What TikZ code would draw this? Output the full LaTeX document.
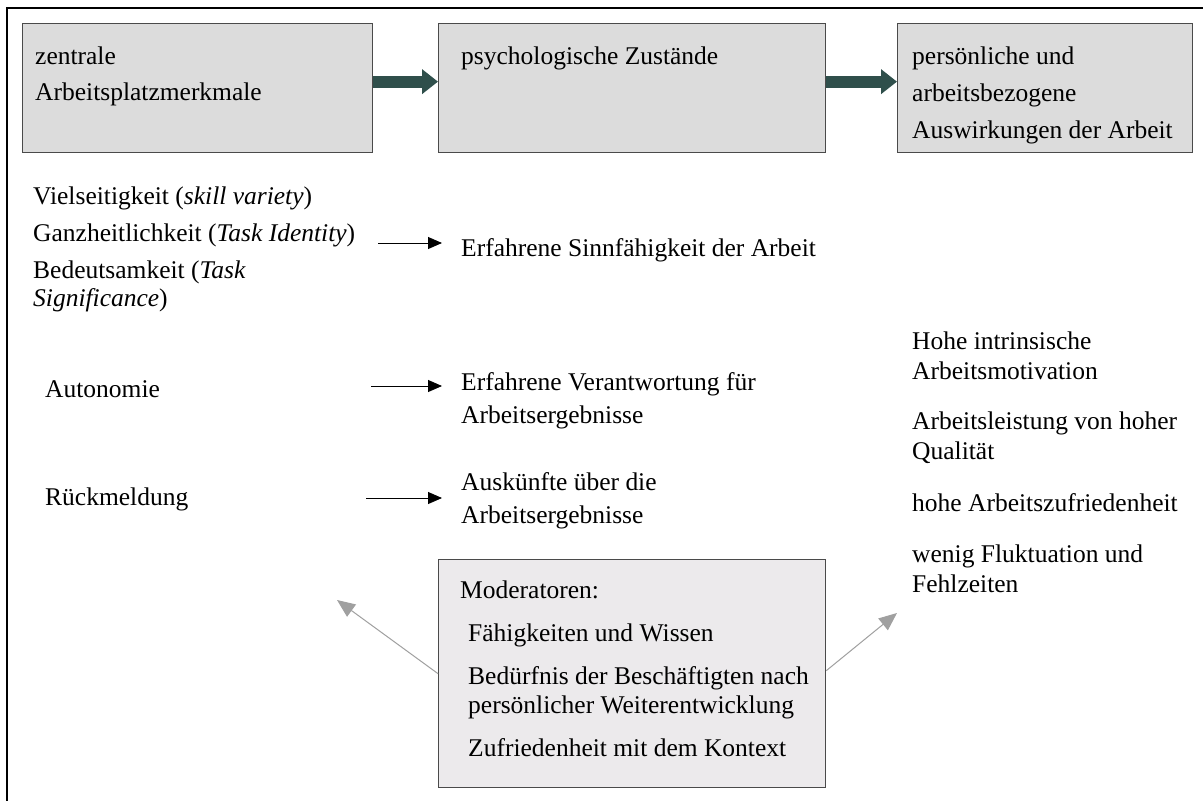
\documentclass[tikz,border=0pt]{standalone}
\usepackage{fontspec}
\setmainfont{Liberation Serif}
\usetikzlibrary{arrows.meta}
\definecolor{boxfill}{HTML}{DCDCDC}
\definecolor{modfill}{HTML}{ECEAEC}
\definecolor{boxline}{HTML}{4A4A4A}
\definecolor{bigarrowcol}{HTML}{2F4F4B}
\definecolor{grayarrow}{HTML}{A0A0A0}
\begin{document}
\begin{tikzpicture}[x=1pt,y=-1pt,
  txt/.style={font=\fontsize{25.5}{31}\selectfont, inner sep=0pt, anchor=base west, align=left},
  boxnode/.style={draw=boxline, line width=1.3pt, fill=boxfill, anchor=north west, inner sep=0pt},
  modbox/.style={draw=boxline, line width=1.3pt, fill=modfill, anchor=north west, inner sep=0pt},
  bigarrow/.style={draw=bigarrowcol, line width=12pt, -{Triangle[length=16pt,width=24pt]}, color=bigarrowcol},
  thinarrow/.style={draw=black, line width=0.9pt, -{Triangle[length=14pt,width=12pt]}},
  grayarr/.style={draw=grayarrow, line width=1pt, -{Triangle[length=18pt,width=15pt]}}]
\useasboundingbox (0,0) rectangle (1203,801);
\fill[white] (0,0) rectangle (1203,801);
\draw[line width=1.5pt] (7,801) -- (7,8) -- (1203,8);

% top boxes
\node[boxnode, minimum width=350pt, minimum height=129pt] (b1) at (22,23) {};
\node[boxnode, minimum width=387pt, minimum height=129pt] (b2) at (438,23) {};
\node[boxnode, minimum width=295pt, minimum height=129pt] (b3) at (897,23) {};
% multi-line nodes are placed by the baseline of their last line
\node[txt, font=\fontsize{25.5}{36}\selectfont] (t1) at (35,100) {zentrale\\Arbeitsplatzmerkmale};
\node[txt] (t2) at (461,64) {psychologische Zustände};
\node[txt, font=\fontsize{25.5}{37}\selectfont] (t3) at (912,138) {persönliche und\\arbeitsbezogene\\Auswirkungen der Arbeit};
\draw[bigarrow] ([yshift=6.5pt]b1.east) -- ([yshift=6.5pt]b2.west);
\draw[bigarrow] ([yshift=6.5pt]b2.east) -- ([yshift=6.5pt]b3.west);

% left column
\node[txt] (l1) at (33,204) {Vielseitigkeit (\textit{skill variety})};
\node[txt] (l2) at (33,241) {Ganzheitlichkeit (\textit{Task Identity})};
\node[txt, font=\fontsize{25.5}{28}\selectfont] (l3) at (33,306) {Bedeutsamkeit (\textit{Task}\\\textit{Significance})};
\node[txt] (l4) at (45,397) {Autonomie};
\node[txt] (l5) at (45,505) {Rückmeldung};

% middle column
\node[txt] (m1) at (461,256) {Erfahrene Sinnfähigkeit der Arbeit};
\node[txt, font=\fontsize{25.5}{33}\selectfont] (m2) at (461,423) {Erfahrene Verantwortung für\\Arbeitsergebnisse};
\node[txt, font=\fontsize{25.5}{33}\selectfont] (m3) at (461,523) {Auskünfte über die\\Arbeitsergebnisse};

\coordinate (a1s) at (378,243); \coordinate (a1e) at (442,243);
\coordinate (a2s) at (371,386); \coordinate (a2e) at (442,386);
\coordinate (a3s) at (366,498); \coordinate (a3e) at (442,498);
\draw[thinarrow] (a1s) -- (a1e);
\draw[thinarrow] (a2s) -- (a2e);
\draw[thinarrow] (a3s) -- (a3e);

% right column
\node[txt, font=\fontsize{25.5}{30}\selectfont] (r1) at (912,379) {Hohe intrinsische\\Arbeitsmotivation};
\node[txt, font=\fontsize{25.5}{30}\selectfont] (r2) at (912,459) {Arbeitsleistung von hoher\\Qualität};
\node[txt] (r3) at (912,511) {hohe Arbeitszufriedenheit};
\node[txt, font=\fontsize{25.5}{30}\selectfont] (r4) at (912,592) {wenig Fluktuation und\\Fehlzeiten};

% moderators
\node[modbox, minimum width=387pt, minimum height=228pt] (mod) at (438,559) {};
\node[txt] (mo1) at (460,598) {Moderatoren:};
\node[txt] (mo2) at (468,641) {Fähigkeiten und Wissen};
\node[txt, font=\fontsize{25.5}{29}\selectfont] (mo3) at (468,713) {Bedürfnis der Beschäftigten nach\\persönlicher Weiterentwicklung};
\node[txt] (mo4) at (468,756) {Zufriedenheit mit dem Kontext};

\coordinate (g1e) at (337,600);
\coordinate (g2e) at (897,613);
\draw[grayarr] (mod.west) -- (g1e);
\draw[grayarr] ([yshift=3pt]mod.east) -- (g2e);
\end{tikzpicture}
\end{document}
